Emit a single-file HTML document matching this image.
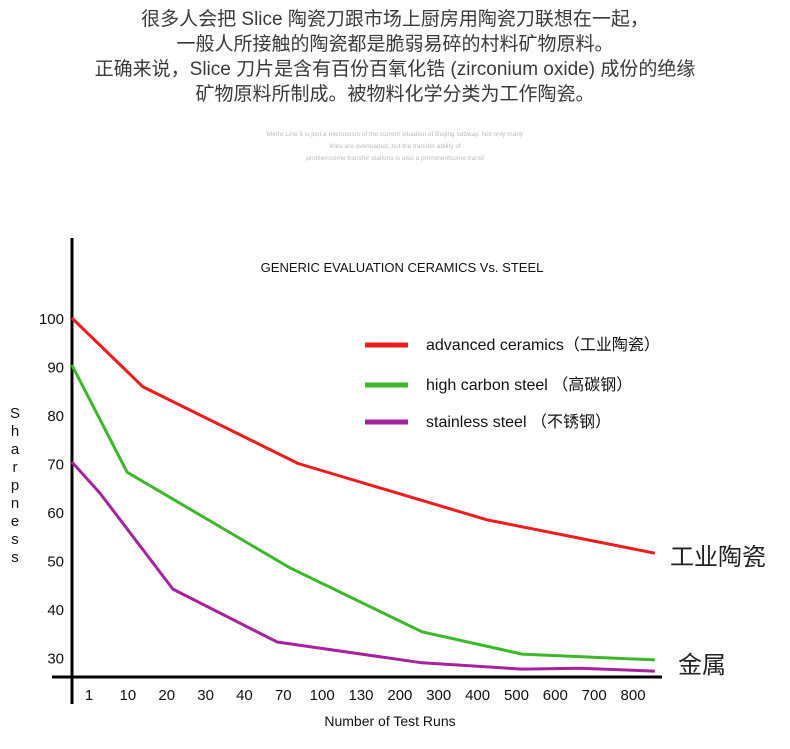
<!DOCTYPE html>
<html><head><meta charset="utf-8">
<style>
body{margin:0;background:#fff;width:790px;height:749px;overflow:hidden;font-family:"Liberation Sans","Noto Sans CJK SC",sans-serif;}
.intro{position:absolute;left:0;top:7px;width:790px;text-align:center;font-size:19px;line-height:25px;color:#3a3a3a;}
.small{position:absolute;left:0;top:129px;width:790px;text-align:center;font-size:6.5px;line-height:12px;color:#bbb;}
svg{position:absolute;left:0;top:0}
</style></head><body>
<div class="intro">很多人会把 Slice 陶瓷刀跟市场上厨房用陶瓷刀联想在一起，<br>一般人所接触的陶瓷都是脆弱易碎的村料矿物原料。<br>正确来说，Slice 刀片是含有百份百氧化锆 (zirconium oxide) 成份的绝缘<br>矿物原料所制成。被物料化学分类为工作陶瓷。</div>
<div class="small">Metro Line 5 is just a microcosm of the current situation of Beijing subway. Not only many<br>lines are overloaded, but the transfer ability of<br>problemsome transfer stations is also a prominentsome transf</div>
<svg id="chart" width="790" height="749"></svg>
<script>
const xLabels=["1","10","20","30","40","70","100","130","200","300","400","500","600","700","800"];
const yTicks=[100,90,80,70,60,50,40,30];
const redX=[-0.44,1.39,5.38,10.24,14.56];
const redY=[100,85.8,70,58.4,51.5];
const greenX=[-0.44,0.98,5.17,8.57,11.14,14.56];
const greenY=[90.3,68.2,48.5,35.3,30.7,29.5];
const purpleX=[-0.44,0.28,2.16,4.84,8.57,11.14,12.63,14.56];
const purpleY=[70.3,63.9,44.1,33.2,28.9,27.6,27.8,27.2];
const NS="http://www.w3.org/2000/svg";
const svg=document.getElementById('chart');
function xs(i){return 89+i*38.86;}
function ys(v){return 318+(100-v)*4.85;}
function el(t,a,txt){const e=document.createElementNS(NS,t);for(const k in a)e.setAttribute(k,a[k]);if(txt!==undefined)e.textContent=txt;svg.appendChild(e);return e;}
let e;
e=el('line',{x1:72,y1:238,x2:72,y2:704,stroke:'#000','stroke-width':3});


e=el('line',{x1:52,y1:677,x2:662,y2:677,stroke:'#000','stroke-width':3});


yTicks.forEach(v=>{
 e=el('text',{x:64,y:ys(v)+6,'text-anchor':'end','font-size':15,fill:'#111'},String(v));
 
 
});
xLabels.forEach((l,i)=>{
 e=el('text',{x:xs(i),y:700,'text-anchor':'middle','font-size':15,fill:'#111'},l);
 
 
});
const yt="Sharpness";
for(let i=0;i<yt.length;i++){
 e=el('text',{x:15,y:418+i*18,'text-anchor':'middle','font-size':15,fill:'#111'},yt[i]);
 
 
}
e=el('text',{x:390,y:726,'text-anchor':'middle','font-size':14,fill:'#111'},'Number of Test Runs');


e=el('text',{x:402,y:272,'text-anchor':'middle','font-size':13,fill:'#111'},'GENERIC EVALUATION CERAMICS Vs. STEEL');


function series(X,Y,c,n){
 const p=X.map((x,i)=>xs(x).toFixed(1)+','+ys(Y[i]).toFixed(1)).join(' ');
 const l=el('polyline',{points:p,fill:'none',stroke:c,'stroke-width':3,'stroke-linejoin':'round'});
 
 
}
series(redX,redY,'#ee1c1c','advanced-ceramics-line');
series(greenX,greenY,'#3cb82a','high-carbon-steel-line');
series(purpleX,purpleY,'#a8229e','stainless-steel-line');
const leg=[['#ee1c1c','advanced ceramics（工业陶瓷）',345],['#3cb82a','high carbon steel （高碳钢）',385],['#a8229e','stainless steel （不锈钢）',422]];
leg.forEach(g=>{
 e=el('line',{x1:365,y1:g[2],x2:408,y2:g[2],stroke:g[0],'stroke-width':5});
 
 
 e=el('text',{x:426,y:g[2]+5,'font-size':16,fill:'#111'},g[1]);
 
 
});
e=el('text',{x:670,y:565,'font-size':24,fill:'#222'},'工业陶瓷');


e=el('text',{x:678,y:673,'font-size':24,fill:'#222'},'金属');


</script>
</body></html>
